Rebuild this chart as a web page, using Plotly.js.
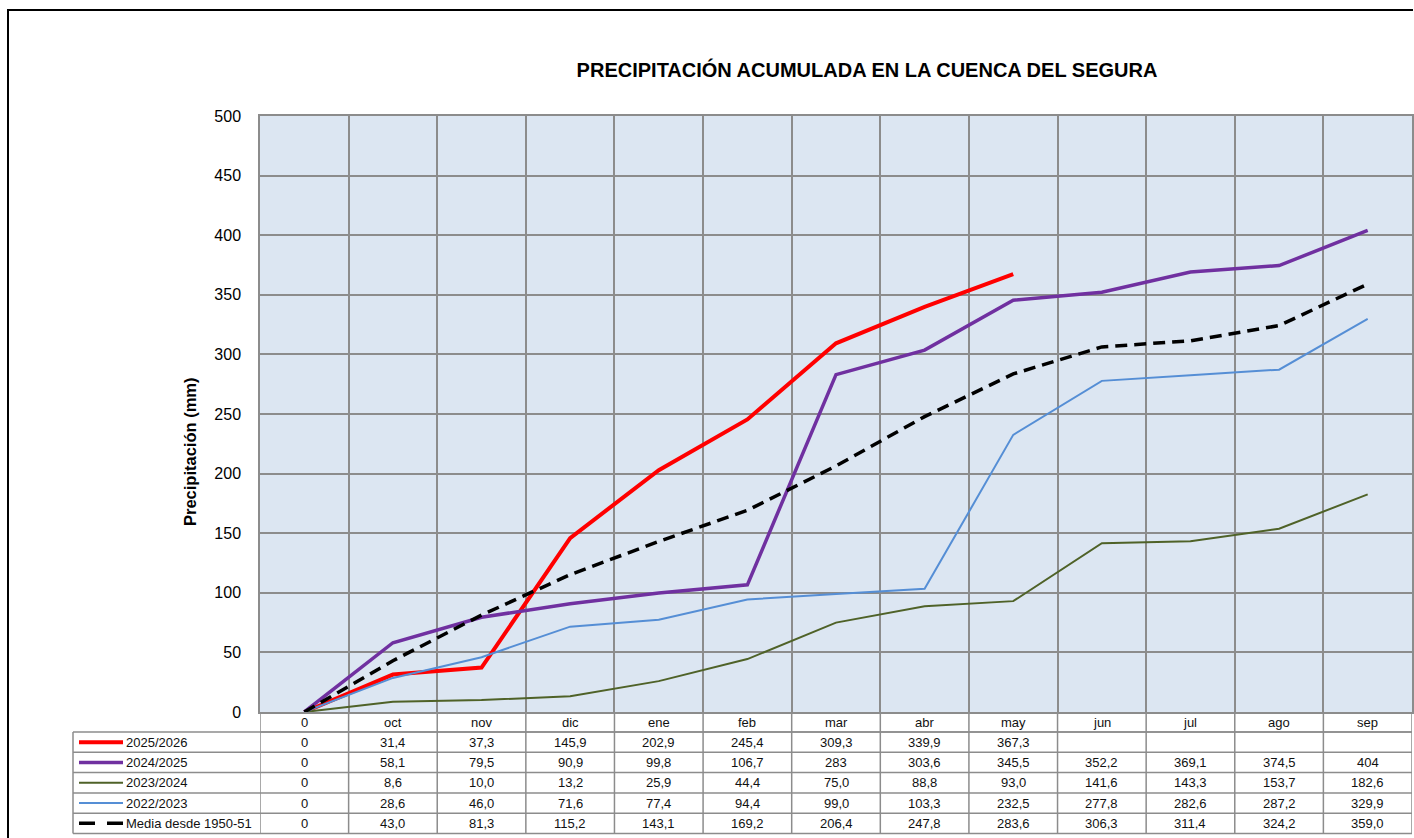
<!DOCTYPE html>
<html>
<head>
<meta charset="utf-8">
<script src="https://cdn.plot.ly/plotly-3.0.1.min.js"></script>
<style>html,body{margin:0;padding:0;background:#fff;overflow:hidden;}#chart{width:1414px;height:838px;}</style>
</head>
<body>
<div id="chart"></div>
<script>
// ---- data ----
const categories = ["0","oct","nov","dic","ene","feb","mar","abr","may","jun","jul","ago","sep"];
const seriesNames = ["2025/2026","2024/2025","2023/2024","2022/2023","Media desde 1950-51"];
const s2025 = [0,31.4,37.3,145.9,202.9,245.4,309.3,339.9,367.3,null,null,null,null];
const s2024 = [0,58.1,79.5,90.9,99.8,106.7,283,303.6,345.5,352.2,369.1,374.5,404];
const s2023 = [0,8.6,10.0,13.2,25.9,44.4,75.0,88.8,93.0,141.6,143.3,153.7,182.6];
const s2022 = [0,28.6,46.0,71.6,77.4,94.4,99.0,103.3,232.5,277.8,282.6,287.2,329.9];
const media = [0,43.0,81.3,115.2,143.1,169.2,206.4,247.8,283.6,306.3,311.4,324.2,359.0];
const yTicks = [0,50,100,150,200,250,300,350,400,450,500];

const seriesData = [s2025, s2024, s2023, s2022, media];
const fixedDecimals = [true, false, true, true, true];
const styles = [
  {color:"#ff0000", width:4, dash:"solid"},
  {color:"#7030a0", width:3.5, dash:"solid"},
  {color:"#4f6228", width:2, dash:"solid"},
  {color:"#558ed5", width:2, dash:"solid"},
  {color:"#000000", width:3.5, dash:"12px,7px"}
];

// ---- geometry helpers (pixel -> paper) ----
const W = 1414, H = 838;
const mL = 260, mR = 2, mT = 116, mB = 126;
const pw = W - mL - mR, ph = H - mT - mB;
const px = x => (x - mL) / pw;
const py = y => (H - mB - y) / ph;

const traces = seriesData.map((d, i) => ({
  type: "scatter", mode: "lines",
  x: categories, y: d, name: seriesNames[i],
  line: {color: styles[i].color, width: styles[i].width, dash: styles[i].dash},
  connectgaps: false, showlegend: false, hoverinfo: "x+y"
}));

function fmt(v, idx, fixed) {
  if (v === null || v === undefined) return "";
  if (idx === 0) return "0";
  return (fixed ? v.toFixed(1) : String(v)).replace(".", ",");
}

const gridCol = "#8c8c8c";
const ff = "Liberation Sans, Arial, sans-serif";
const tfont = {family: ff, size: 13, color: "#111"};
const annotations = [];
const shapes = [];

// table rows (pixel y boundaries)
const headerTop = 712, headerBot = 732;
const rowBounds = [732, 752.3, 772.6, 792.9, 813.2, 833.5];
const legendLeft = 73;

categories.forEach((c, i) => {
  annotations.push({xref: "x", yref: "paper", x: i, y: py((headerTop + headerBot) / 2),
    text: c, showarrow: false, font: tfont, xanchor: "center", yanchor: "middle"});
});
seriesData.forEach((d, r) => {
  const yc = py((rowBounds[r] + rowBounds[r + 1]) / 2);
  d.forEach((v, i) => {
    const t = fmt(v, i, fixedDecimals[r]);
    if (t !== "") annotations.push({xref: "x", yref: "paper", x: i, y: yc, text: t,
      showarrow: false, font: tfont, xanchor: "center", yanchor: "middle"});
  });
  annotations.push({xref: "paper", yref: "paper", x: px(124), y: yc, text: seriesNames[r],
    showarrow: false, font: tfont, xanchor: "left", yanchor: "middle"});
  shapes.push({type: "line", xref: "paper", yref: "paper", x0: px(79), x1: px(123), y0: yc, y1: yc,
    line: {color: styles[r].color, width: styles[r].width, dash: r === 4 ? "16px,12px" : "solid"}});
});

annotations.push({xref: "paper", yref: "paper", x: px(190), y: py(452), textangle: -90,
  text: "<b>Precipitación (mm)</b>", showarrow: false, font: {family: ff, size: 16.5, color: "#000"},
  xanchor: "center", yanchor: "middle"});

const tl = {color: gridCol, width: 1.5};
shapes.push({type: "line", xref: "paper", yref: "paper", x0: 0, x1: 1, y0: py(headerBot), y1: py(headerBot), line: tl});
rowBounds.forEach(yb => {
  shapes.push({type: "line", xref: "paper", yref: "paper", x0: px(legendLeft), x1: 1, y0: py(yb), y1: py(yb), line: tl});
});
shapes.push({type: "line", xref: "paper", yref: "paper", x0: px(legendLeft), x1: px(legendLeft), y0: py(rowBounds[0]), y1: py(rowBounds[rowBounds.length - 1]), line: tl});
for (let i = 0; i <= categories.length; i++) {
  shapes.push({type: "line", xref: "x", yref: "paper", x0: i - 0.5, x1: i - 0.5, y0: 0, y1: py(rowBounds[rowBounds.length - 1]), line: tl});
}
// outer frame (left and top edges only)
shapes.push({type: "path", xref: "paper", yref: "paper",
  path: `M ${px(8)} ${py(H)} L ${px(8)} ${py(10)} L ${px(W - 1)} ${py(10)}`,
  line: {color: "#000", width: 2}});

const layout = {
  width: W, height: H,
  margin: {l: mL, r: mR, t: mT, b: mB, pad: 0},
  paper_bgcolor: "#ffffff",
  plot_bgcolor: "#dce6f2",
  font: {family: ff, color: "#000"},
  title: {text: "<b>PRECIPITACIÓN ACUMULADA EN LA CUENCA DEL SEGURA</b>",
    font: {family: ff, size: 20, color: "#000"},
    xref: "container", yref: "container", x: 867 / W, xanchor: "center", y: 1 - 70 / H, yanchor: "middle"},
  xaxis: {type: "category", range: [-0.5, categories.length - 0.5], tickson: "boundaries",
    showgrid: true, gridcolor: gridCol, gridwidth: 1.5, showticklabels: false, ticks: "",
    showline: true, linecolor: gridCol, linewidth: 1.5, mirror: true, zeroline: false, fixedrange: true},
  yaxis: {range: [0, 500], tickvals: yTicks, showgrid: true, gridcolor: gridCol, gridwidth: 1.5,
    zeroline: false, showline: true, linecolor: gridCol, linewidth: 1.5, mirror: true,
    ticks: "", ticklabelstandoff: 14, tickfont: {size: 16, color: "#000", family: ff}},
  annotations: annotations,
  shapes: shapes,
  showlegend: false
};

Plotly.newPlot("chart", traces, layout, {displayModeBar: false, responsive: false});
</script>
</body>
</html>
